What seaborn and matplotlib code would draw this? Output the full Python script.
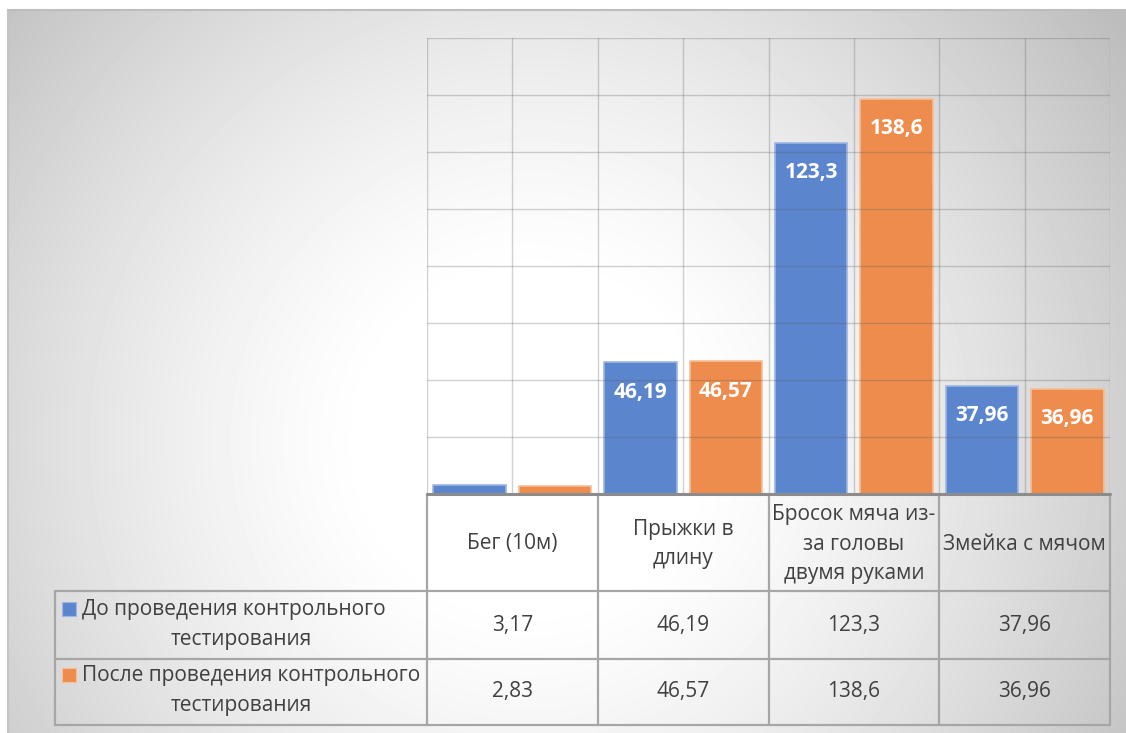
import numpy as np
import pandas as pd
import matplotlib
matplotlib.use("Agg")
import matplotlib.pyplot as plt
import matplotlib.transforms as mtransforms
import seaborn as sns

# ---------------- data ----------------
categories = ["Бег (10м)", "Прыжки в длину", "Бросок мяча из-за головы двумя руками", "Змейка с мячом"]
header_labels = ["Бег (10м)", "Прыжки в\nдлину", "Бросок мяча из-\nза головы\nдвумя руками", "Змейка с мячом"]
series_names = ["До проведения контрольного тестирования", "После проведения контрольного тестирования"]
legend_first = ["До проведения контрольного", "После проведения контрольного"]
legend_second = ["тестирования", "тестирования"]
before = [3.17, 46.19, 123.3, 37.96]
after = [2.83, 46.57, 138.6, 36.96]
colors = ["#5B86CE", "#EE8C4D"]
edge_colors = ["#9DB6E3", "#F5BE98"]
y_max = 160
y_step = 20


def fmt(v):
    return f"{v:g}".replace(".", ",")


sns.set_theme(style="white")
plt.rcParams["font.family"] = ["Open Sans", "DejaVu Sans"]

W, H = 1126, 733
fig = plt.figure(figsize=(W / 100, H / 100), dpi=100)
fig.patch.set_facecolor("white")

# background overlay axes in pixel coordinates
bg = fig.add_axes([0, 0, 1, 1])
bg.axis("off")
yy, xx = np.mgrid[10:H, 8:W].astype(float)
d = np.hypot(xx - 530, yy - 440) / 720.0
f = np.clip((d - 0.22) / 0.78, 0, 1) ** 1.3
img = 1.0 - f * (66 / 255.0)
bg.imshow(img, extent=[8, W, H, 10], cmap="gray", vmin=0, vmax=1,
          interpolation="bilinear", aspect="auto", zorder=0)
bg.set_xlim(0, W)
bg.set_ylim(H, 0)
bg.plot([8, W], [10, 10], color="#bdbdbd", lw=1.5, zorder=1)
bg.plot([8, 8], [10, H], color="#c4c4c4", lw=1.5, zorder=1)

# plot axes
x0, y0, x1, y1 = 427, 38, 1110, 494
ax = fig.add_axes([x0 / W, 1 - y1 / H, (x1 - x0) / W, (y1 - y0) / H])
ax.patch.set_alpha(0)

df = pd.DataFrame({
    "cat": categories * 2,
    "series": [series_names[0]] * len(categories) + [series_names[1]] * len(categories),
    "val": before + after,
})
sns.barplot(data=df, x="cat", y="val", hue="series", hue_order=series_names,
            palette=colors, width=1.0, gap=0.15, ax=ax, legend=False,
            errorbar=None, saturation=1, linewidth=1.2)
for cont, ec in zip(ax.containers, edge_colors):
    for p in cont:
        p.set_edgecolor(ec)
    labels = [fmt(v) if v > 10 else "" for v in cont.datavalues]
    ax.bar_label(cont, labels=labels, label_type="edge", padding=-29,
                 color="white", fontsize=15, fontweight="bold")

ax.set_xlim(-0.5, len(categories) - 0.5)
ax.set_ylim(0, y_max)
ax.set_yticks(np.arange(0, y_max + 1, y_step))
ax.set_xticks(np.arange(-0.5, len(categories), 0.5))
ax.tick_params(labelbottom=False, labelleft=False, length=0)
ax.set_xlabel("")
ax.set_ylabel("")
ax.set_axisbelow(False)
ax.grid(True, color="#5a5a5a", alpha=0.28, lw=1.0)
for s in ax.spines.values():
    s.set_visible(False)

# ---------------- data table ----------------
tr = mtransforms.blended_transform_factory(ax.transData, bg.transData)
line_c = "#a6a6a6"
txt_c = "#404040"
row_lines = [591, 659, 725]
# baseline
ax.plot([-0.5, len(categories) - 0.5], [0, 0], color="#8c8c8c", lw=2.2,
        clip_on=False, zorder=5)
for yv in row_lines:
    bg.plot([55, 427], [yv, yv], color=line_c, lw=1.6, zorder=3)
    bg.plot([-0.5, len(categories) - 0.5], [yv, yv], color=line_c, lw=1.6,
            transform=tr, zorder=3)
bg.plot([55, 55], [591, 725], color=line_c, lw=1.6, zorder=3)
for xv in np.arange(-0.5, len(categories), 1.0):
    bg.plot([xv, xv], [494, 725], color=line_c, lw=1.6, transform=tr, zorder=3)

fs = 15
for i, lab in enumerate(header_labels):
    bg.text(i, 544, lab, transform=tr, ha="center", va="center", fontsize=fs,
            color=txt_c, linespacing=1.55, multialignment="center", zorder=4)
for r, vals in enumerate([before, after]):
    yc = [626, 692][r]
    for i, v in enumerate(vals):
        bg.text(i, yc, fmt(v), transform=tr, ha="center", va="center",
                fontsize=fs, color=txt_c, zorder=4)
    # legend key + label
    bg.add_patch(plt.Rectangle((62, yc - 24), 14, 14, facecolor=colors[r],
                               edgecolor=edge_colors[r], lw=0.8, zorder=4))
    bg.text(82, yc - 17, legend_first[r], ha="left", va="center", fontsize=fs,
            color=txt_c, zorder=4)
    bg.text(241, yc + 14, legend_second[r], ha="center", va="center", fontsize=fs,
            color=txt_c, zorder=4)

fig.savefig("out.png", dpi=100)
